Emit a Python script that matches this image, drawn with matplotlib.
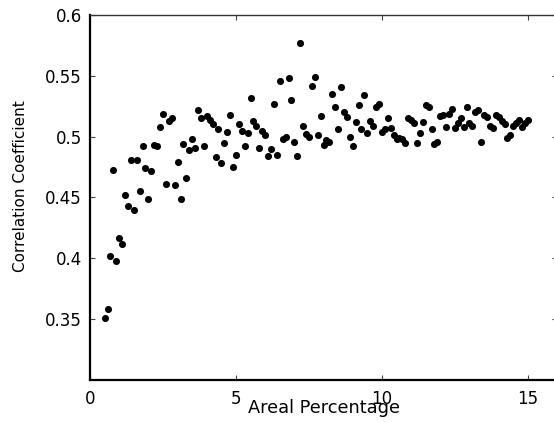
import matplotlib
matplotlib.use("Agg")
import matplotlib.pyplot as plt
import numpy as np

# areal percentage, sampled every 0.1 from 0.5 to 15
areal_pct = np.round(np.arange(5, 151) / 10.0, 1)

# correlation coefficient at each areal percentage
corr_coef = [
    0.351, 0.358, 0.402, 0.473, 0.398, 0.417, 0.412, 0.452, 0.443, 0.481,  # 0.5 - 1.4
    0.440, 0.481, 0.455, 0.492, 0.474, 0.449, 0.472, 0.493, 0.492, 0.508,  # 1.5 - 2.4
    0.519, 0.461, 0.513, 0.515, 0.460, 0.479, 0.449, 0.494, 0.466, 0.489,  # 2.5 - 3.4
    0.498, 0.491, 0.522, 0.515, 0.492, 0.517, 0.514, 0.510, 0.483, 0.506,  # 3.5 - 4.4
    0.478, 0.495, 0.504, 0.518, 0.475, 0.485, 0.510, 0.505, 0.492, 0.503,  # 4.5 - 5.4
    0.532, 0.513, 0.509, 0.491, 0.505, 0.501, 0.484, 0.490, 0.527, 0.485,  # 5.5 - 6.4
    0.546, 0.498, 0.500, 0.548, 0.530, 0.496, 0.484, 0.577, 0.509, 0.502,  # 6.5 - 7.4
    0.500, 0.542, 0.549, 0.501, 0.517, 0.493, 0.497, 0.496, 0.535, 0.524,  # 7.5 - 8.4
    0.506, 0.541, 0.520, 0.516, 0.500, 0.492, 0.512, 0.526, 0.506, 0.534,  # 8.5 - 9.4
    0.503, 0.513, 0.509, 0.524, 0.527, 0.504, 0.506, 0.515, 0.507, 0.501,  # 9.5 - 10.4
    0.498, 0.499, 0.498, 0.495, 0.515, 0.514, 0.511, 0.495, 0.503, 0.512,  # 10.5 - 11.4
    0.526, 0.524, 0.506, 0.494, 0.496, 0.517, 0.518, 0.508, 0.519, 0.523,  # 11.5 - 12.4
    0.507, 0.511, 0.515, 0.508, 0.524, 0.511, 0.509, 0.520, 0.522, 0.496,  # 12.5 - 13.4
    0.518, 0.516, 0.509, 0.507, 0.518, 0.516, 0.513, 0.510, 0.499, 0.501,  # 13.5 - 14.4
    0.509, 0.511, 0.514, 0.508, 0.511, 0.514,                              # 14.5 - 15.0
]

x_ticks = [0, 5, 10, 15]
x_tick_labels = ["0", "5", "10", "15"]
y_ticks = [0.35, 0.4, 0.45, 0.5, 0.55, 0.6]
y_tick_labels = ["0.35", "0.4", "0.45", "0.5", "0.55", "0.6"]

plt.rcParams["font.family"] = "DejaVu Sans"

fig = plt.figure(figsize=(5.54, 4.22), dpi=100)
ax = fig.add_axes([0.1625, 0.0995, 0.843, 0.865])

ax.scatter(areal_pct, corr_coef, s=26, color="black", linewidths=0, zorder=3)

ax.set_xlim(0, 16)
ax.set_ylim(0.3, 0.6)
ax.set_xticks(x_ticks)
ax.set_xticklabels(x_tick_labels)
ax.set_yticks(y_ticks)
ax.set_yticklabels(y_tick_labels)

# matlab style box: inward ticks on every side
ax.tick_params(direction="in", length=3.5, width=0.8, color="#444444",
               top=True, right=True, labelsize=12)
ax.tick_params(axis="x", pad=7)
ax.tick_params(axis="y", pad=6)

for side in ["left", "bottom"]:
    ax.spines[side].set_linewidth(1.6)
    ax.spines[side].set_color("black")
ax.spines["top"].set_linewidth(1.0)
ax.spines["top"].set_color("#333333")
# the right edge of the box falls just past the canvas
ax.spines["right"].set_visible(False)

ax.set_xlabel("Areal Percentage", fontsize=12.8)
ax.xaxis.set_label_coords(0.5, -0.052)
ax.set_ylabel("Correlation Coefficient", fontsize=11)
ax.yaxis.set_label_coords(-0.133, 0.53)

fig.savefig("out.png", dpi=100)
